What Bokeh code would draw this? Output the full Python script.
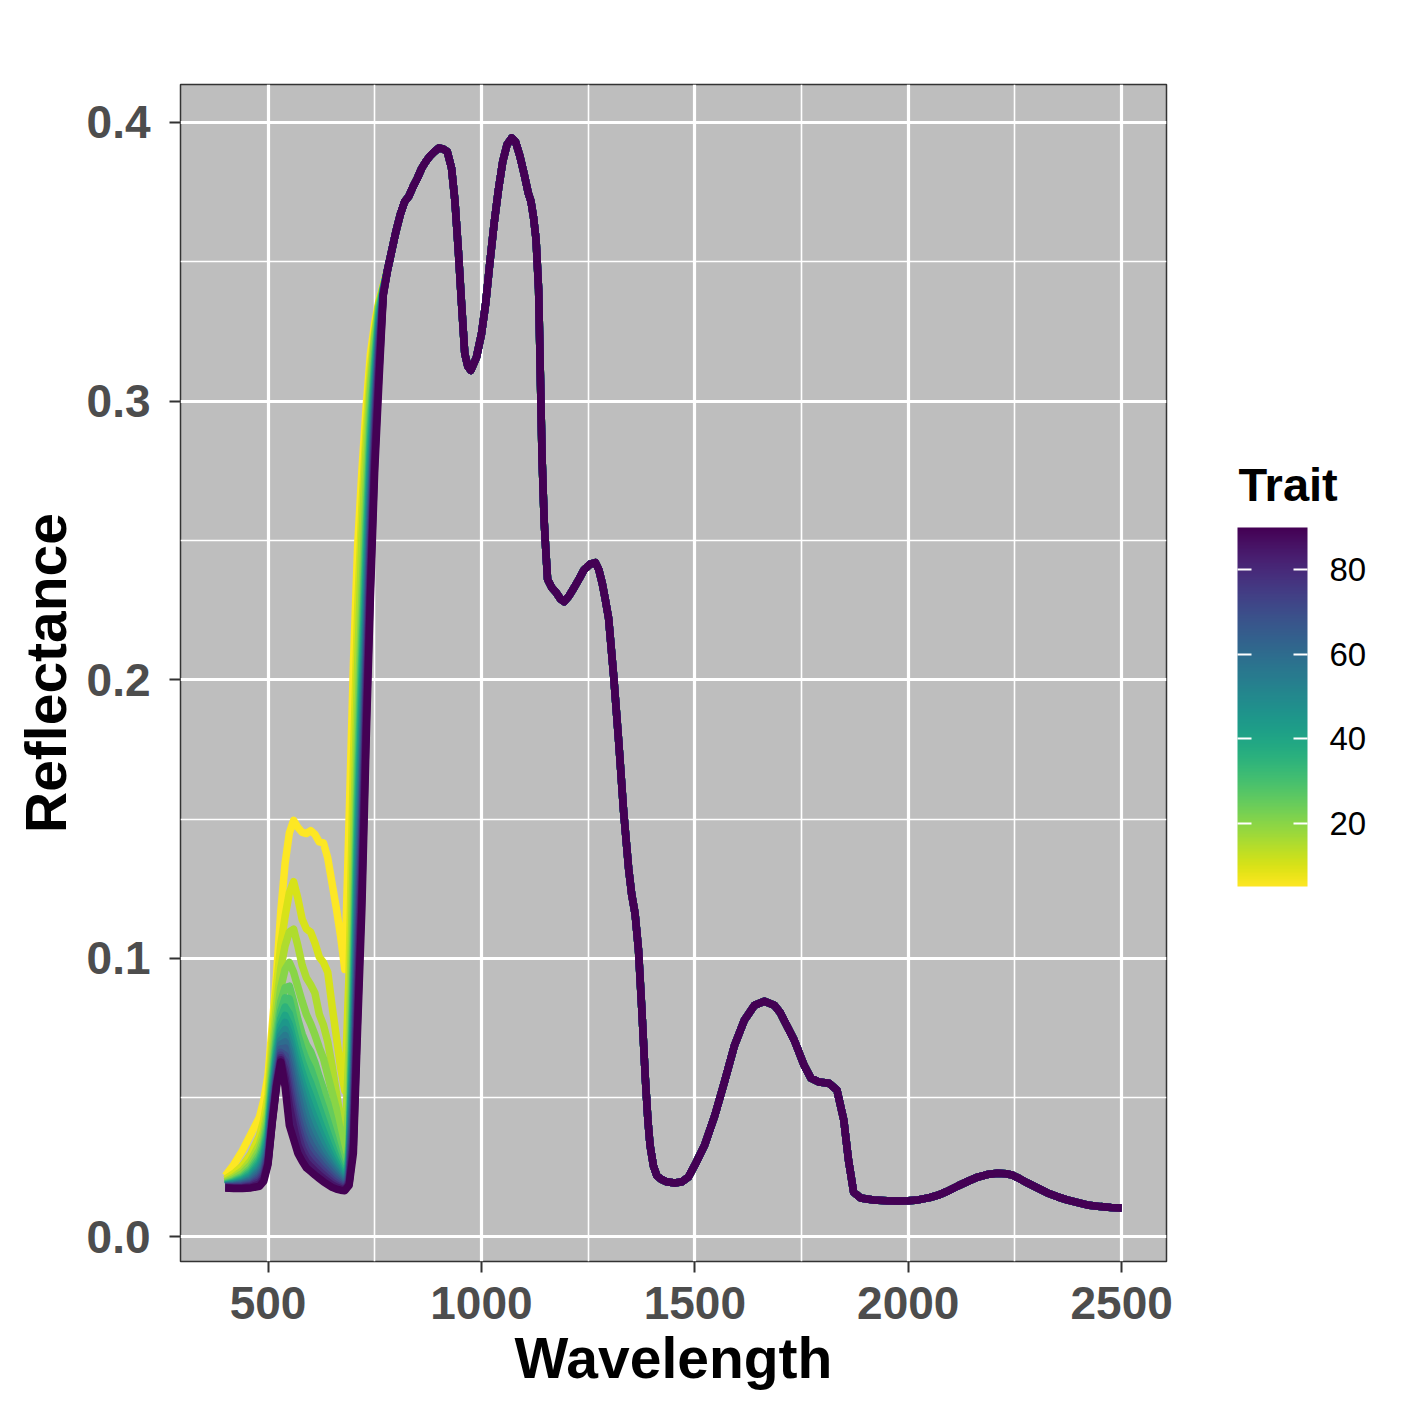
from bokeh.plotting import figure
from bokeh.models import (ColumnDataSource, LinearColorMapper, ColorBar, FixedTicker, Range1d)
from bokeh.palettes import Viridis256
from bokeh.embed import file_html
from bokeh.resources import INLINE

# ---------------- data ----------------
traits = [5, 10, 15, 20, 25, 30, 35, 40, 45, 50, 55, 60, 65, 70, 75, 80, 85, 90]

vis_wl = [400, 420, 440, 460, 480, 490, 500, 510, 520, 530, 540, 550, 560, 570, 580, 590,
          600, 610, 620, 630, 640, 650, 660, 670, 680, 690, 700, 710, 720, 730, 740, 750, 760, 770]

refl_t05 = [0.0220, 0.0260, 0.0310, 0.0370, 0.0430, 0.0490, 0.0580, 0.0760, 0.0940, 0.1170, 0.1340, 0.1450, 0.1495, 0.1470, 0.1452, 0.1448, 0.1458, 0.1445, 0.1418, 0.1414, 0.1360, 0.1270, 0.1180, 0.1080, 0.0960, 0.1500, 0.2050, 0.2480, 0.2750, 0.2980, 0.3170, 0.3280, 0.3360, 0.3415]
refl_t10 = [0.0208, 0.0228, 0.0256, 0.0298, 0.0363, 0.0420, 0.0510, 0.0720, 0.0900, 0.1050, 0.1150, 0.1235, 0.1275, 0.1215, 0.1140, 0.1105, 0.1094, 0.1055, 0.1005, 0.0985, 0.0950, 0.0830, 0.0720, 0.0610, 0.0525, 0.0950, 0.1700, 0.2250, 0.2620, 0.2900, 0.3120, 0.3250, 0.3355, 0.3412]
refl_t15 = [0.0200, 0.0216, 0.0238, 0.0275, 0.0333, 0.0383, 0.0468, 0.0665, 0.0830, 0.0965, 0.1045, 0.1095, 0.1105, 0.1045, 0.0975, 0.0930, 0.0905, 0.0875, 0.0800, 0.0760, 0.0700, 0.0615, 0.0520, 0.0420, 0.0335, 0.0680, 0.1400, 0.2050, 0.2500, 0.2830, 0.3070, 0.3240, 0.3350, 0.3410]
refl_t20 = [0.0196, 0.0209, 0.0228, 0.0260, 0.0313, 0.0358, 0.0438, 0.0620, 0.0775, 0.0895, 0.0960, 0.0985, 0.0950, 0.0897, 0.0845, 0.0798, 0.0765, 0.0725, 0.0680, 0.0640, 0.0580, 0.0520, 0.0460, 0.0375, 0.0285, 0.0480, 0.1150, 0.1830, 0.2300, 0.2700, 0.3030, 0.3220, 0.3345, 0.3408]
refl_t25 = [0.0192, 0.0203, 0.0219, 0.0247, 0.0296, 0.0338, 0.0412, 0.0585, 0.0730, 0.0845, 0.0895, 0.0900, 0.0845, 0.0780, 0.0728, 0.0690, 0.0665, 0.0625, 0.0575, 0.0530, 0.0480, 0.0420, 0.0350, 0.0285, 0.0222, 0.0340, 0.1000, 0.1680, 0.2170, 0.2590, 0.2950, 0.3170, 0.3335, 0.3405]
refl_t30 = [0.0190, 0.0199, 0.0213, 0.0238, 0.0283, 0.0322, 0.0392, 0.0560, 0.0700, 0.0810, 0.0858, 0.0855, 0.0790, 0.0725, 0.0675, 0.0635, 0.0605, 0.0560, 0.0510, 0.0465, 0.0415, 0.0365, 0.0310, 0.0260, 0.0212, 0.0310, 0.0910, 0.1580, 0.2080, 0.2520, 0.2900, 0.3140, 0.3325, 0.3402]
refl_t35 = [0.0188, 0.0196, 0.0208, 0.0230, 0.0272, 0.0308, 0.0375, 0.0540, 0.0675, 0.0782, 0.0825, 0.0800, 0.0742, 0.0680, 0.0630, 0.0588, 0.0552, 0.0508, 0.0462, 0.0418, 0.0372, 0.0328, 0.0285, 0.0247, 0.0205, 0.0290, 0.0820, 0.1490, 0.2000, 0.2450, 0.2850, 0.3110, 0.3310, 0.3400]
refl_t40 = [0.0186, 0.0193, 0.0204, 0.0223, 0.0262, 0.0295, 0.0360, 0.0522, 0.0655, 0.0760, 0.0795, 0.0762, 0.0702, 0.0640, 0.0590, 0.0545, 0.0505, 0.0462, 0.0418, 0.0378, 0.0338, 0.0300, 0.0267, 0.0235, 0.0200, 0.0275, 0.0740, 0.1410, 0.1920, 0.2380, 0.2800, 0.3080, 0.3295, 0.3398]
refl_t45 = [0.0185, 0.0191, 0.0200, 0.0217, 0.0253, 0.0283, 0.0347, 0.0507, 0.0638, 0.0740, 0.0770, 0.0730, 0.0668, 0.0605, 0.0553, 0.0505, 0.0462, 0.0422, 0.0382, 0.0346, 0.0312, 0.0280, 0.0253, 0.0226, 0.0196, 0.0262, 0.0670, 0.1340, 0.1840, 0.2320, 0.2750, 0.3050, 0.3280, 0.3396]
refl_t50 = [0.0184, 0.0189, 0.0196, 0.0211, 0.0244, 0.0272, 0.0334, 0.0492, 0.0622, 0.0722, 0.0744, 0.0700, 0.0635, 0.0572, 0.0518, 0.0468, 0.0425, 0.0388, 0.0352, 0.0320, 0.0291, 0.0264, 0.0241, 0.0218, 0.0192, 0.0250, 0.0610, 0.1270, 0.1760, 0.2260, 0.2700, 0.3020, 0.3265, 0.3394]
refl_t55 = [0.0183, 0.0187, 0.0193, 0.0206, 0.0236, 0.0262, 0.0322, 0.0478, 0.0608, 0.0705, 0.0722, 0.0672, 0.0605, 0.0540, 0.0483, 0.0430, 0.0390, 0.0357, 0.0325, 0.0298, 0.0274, 0.0251, 0.0231, 0.0210, 0.0188, 0.0240, 0.0560, 0.1200, 0.1680, 0.2200, 0.2650, 0.2990, 0.3250, 0.3392]
refl_t60 = [0.0182, 0.0185, 0.0190, 0.0201, 0.0228, 0.0252, 0.0310, 0.0465, 0.0595, 0.0690, 0.0700, 0.0645, 0.0575, 0.0505, 0.0443, 0.0395, 0.0360, 0.0330, 0.0302, 0.0280, 0.0259, 0.0239, 0.0221, 0.0203, 0.0184, 0.0230, 0.0510, 0.1130, 0.1600, 0.2140, 0.2600, 0.2960, 0.3230, 0.3390]
refl_t65 = [0.0181, 0.0183, 0.0187, 0.0196, 0.0220, 0.0243, 0.0300, 0.0452, 0.0582, 0.0675, 0.0678, 0.0615, 0.0540, 0.0465, 0.0408, 0.0364, 0.0333, 0.0307, 0.0285, 0.0265, 0.0246, 0.0228, 0.0212, 0.0197, 0.0181, 0.0220, 0.0470, 0.1060, 0.1530, 0.2080, 0.2550, 0.2930, 0.3210, 0.3388]
refl_t70 = [0.0180, 0.0181, 0.0184, 0.0191, 0.0212, 0.0234, 0.0290, 0.0440, 0.0570, 0.0662, 0.0652, 0.0580, 0.0500, 0.0428, 0.0375, 0.0335, 0.0308, 0.0288, 0.0268, 0.0250, 0.0233, 0.0217, 0.0203, 0.0190, 0.0178, 0.0210, 0.0430, 0.0990, 0.1460, 0.2020, 0.2500, 0.2900, 0.3190, 0.3386]
refl_t75 = [0.0179, 0.0179, 0.0181, 0.0187, 0.0205, 0.0225, 0.0280, 0.0430, 0.0560, 0.0652, 0.0628, 0.0545, 0.0462, 0.0395, 0.0345, 0.0310, 0.0288, 0.0270, 0.0252, 0.0236, 0.0221, 0.0206, 0.0194, 0.0184, 0.0175, 0.0202, 0.0390, 0.0920, 0.1390, 0.1960, 0.2450, 0.2870, 0.3165, 0.3384]
refl_t80 = [0.0178, 0.0177, 0.0178, 0.0183, 0.0198, 0.0216, 0.0272, 0.0422, 0.0552, 0.0643, 0.0600, 0.0510, 0.0430, 0.0365, 0.0318, 0.0288, 0.0269, 0.0253, 0.0237, 0.0223, 0.0209, 0.0196, 0.0186, 0.0178, 0.0172, 0.0196, 0.0360, 0.0860, 0.1320, 0.1900, 0.2400, 0.2830, 0.3140, 0.3382]
refl_t85 = [0.0177, 0.0175, 0.0176, 0.0179, 0.0190, 0.0208, 0.0265, 0.0415, 0.0545, 0.0636, 0.0570, 0.0470, 0.0395, 0.0330, 0.0295, 0.0268, 0.0252, 0.0237, 0.0223, 0.0210, 0.0198, 0.0187, 0.0179, 0.0173, 0.0169, 0.0190, 0.0330, 0.0800, 0.1250, 0.1840, 0.2350, 0.2790, 0.3110, 0.3380]
refl_t90 = [0.0176, 0.0174, 0.0174, 0.0176, 0.0182, 0.0200, 0.0260, 0.0410, 0.0540, 0.0628, 0.0540, 0.0400, 0.0350, 0.0300, 0.0272, 0.0248, 0.0235, 0.0222, 0.0210, 0.0198, 0.0188, 0.0178, 0.0172, 0.0168, 0.0166, 0.0185, 0.0300, 0.0750, 0.1180, 0.1780, 0.2300, 0.2750, 0.3070, 0.3378]

# shared near/short-wave infrared part (identical for every trait level)
nir_wl = [780, 790, 800, 810, 820, 830, 840, 850, 860, 870, 880, 890, 900, 910, 920, 930, 938, 946,
          953, 961, 968, 975, 988, 1000, 1010, 1020, 1030, 1040, 1050, 1060, 1071, 1080, 1090, 1100,
          1110, 1116, 1122, 1128, 1134, 1138, 1142, 1147, 1151, 1155, 1165, 1174, 1185, 1194, 1205,
          1217, 1230, 1240, 1255, 1267, 1275, 1283, 1290, 1298, 1310, 1322, 1333, 1345, 1352, 1360,
          1368, 1376, 1384, 1390, 1395, 1403, 1411, 1420, 1434, 1453, 1470, 1485, 1500, 1523, 1547,
          1570, 1593, 1616, 1640, 1663, 1686, 1700, 1709, 1733, 1756, 1772, 1791, 1814, 1833, 1849,
          1860, 1872, 1888, 1919, 1950, 1977, 2000, 2023, 2050, 2070, 2090, 2116, 2140, 2163, 2185,
          2209, 2230, 2244, 2260, 2279, 2300, 2326, 2350, 2372, 2400, 2419, 2450, 2475, 2500]
nir_refl = [0.3470, 0.3540, 0.3610, 0.3670, 0.3715, 0.3735, 0.3770, 0.3800, 0.3835, 0.3860, 0.3880,
            0.3895, 0.3908, 0.3905, 0.3895, 0.3836, 0.3717, 0.3538, 0.3360, 0.3170, 0.3125, 0.3110,
            0.3155, 0.3240, 0.3350, 0.3500, 0.3640, 0.3760, 0.3860, 0.3920, 0.3944, 0.3930, 0.3880,
            0.3815, 0.3745, 0.3717, 0.3660, 0.3580, 0.3400, 0.3100, 0.2800, 0.2570, 0.2460, 0.2360,
            0.2330, 0.2315, 0.2290, 0.2280, 0.2300, 0.2330, 0.2365, 0.2394, 0.2415, 0.2420, 0.2395,
            0.2346, 0.2290, 0.2220, 0.2010, 0.1770, 0.1530, 0.1320, 0.1230, 0.1160, 0.1030, 0.0810,
            0.0570, 0.0420, 0.0330, 0.0255, 0.0220, 0.0208, 0.0198, 0.0194, 0.0198, 0.0215, 0.0258,
            0.0330, 0.0437, 0.0560, 0.0688, 0.0778, 0.0832, 0.0846, 0.0832, 0.0805, 0.0778, 0.0706,
            0.0616, 0.0570, 0.0556, 0.0552, 0.0527, 0.0419, 0.0276, 0.0161, 0.0140, 0.0133, 0.0130,
            0.0129, 0.0130, 0.0133, 0.0141, 0.0150, 0.0163, 0.0183, 0.0200, 0.0215, 0.0224, 0.0229,
            0.0227, 0.0222, 0.0210, 0.0194, 0.0178, 0.0158, 0.0144, 0.0133, 0.0122, 0.0115, 0.0109,
            0.0106, 0.0104]

x_ticks = [500, 1000, 1500, 2000, 2500]
x_minor = [750, 1250, 1750, 2250]
y_ticks = [0.0, 0.1, 0.2, 0.3, 0.4]
y_minor = [0.05, 0.15, 0.25, 0.35]
y_tick_labels = ["0.0", "0.1", "0.2", "0.3", "0.4"]
cbar_ticks = [20, 40, 60, 80]
legend_title = "Trait"

curves = [refl_t05, refl_t10, refl_t15, refl_t20, refl_t25, refl_t30, refl_t35, refl_t40, refl_t45,
          refl_t50, refl_t55, refl_t60, refl_t65, refl_t70, refl_t75, refl_t80, refl_t85, refl_t90]

# ---------------- plot ----------------
FONT = "Liberation Sans"
palette = list(reversed(Viridis256))
mapper = LinearColorMapper(palette=palette, low=min(traits), high=max(traits))

xs = [vis_wl + nir_wl for _ in curves]
ys = [c + nir_refl for c in curves]
src = ColumnDataSource(dict(xs=xs, ys=ys, trait=traits))

p = figure(frame_width=986, frame_height=1177,
           x_range=Range1d(295, 2605), y_range=Range1d(-0.0088, 0.4136),
           output_backend="svg", toolbar_location=None,
           min_border_left=180, min_border_top=84, min_border_right=243, min_border_bottom=148)

p.background_fill_color = "#BEBEBE"
p.border_fill_color = "white"
p.outline_line_color = "#333333"
p.outline_line_width = 1.5

p.multi_line("xs", "ys", source=src, line_color={"field": "trait", "transform": mapper},
             line_width=7.5, line_join="round", line_cap="butt")

p.xaxis.ticker = FixedTicker(ticks=x_ticks, minor_ticks=x_minor)
p.yaxis.ticker = FixedTicker(ticks=y_ticks, minor_ticks=y_minor)
p.yaxis.major_label_overrides = {v: s for v, s in zip(y_ticks, y_tick_labels)}

for g in (p.xgrid, p.ygrid):
    g.grid_line_color = "white"
    g.grid_line_width = 3.2
    g.minor_grid_line_color = "white"
    g.minor_grid_line_width = 1.6

for ax in (p.xaxis, p.yaxis):
    ax.axis_line_color = None
    ax.major_tick_line_color = "#333333"
    ax.major_tick_line_width = 2
    ax.major_tick_out = 11
    ax.major_tick_in = 0
    ax.minor_tick_line_color = None
    ax.major_label_text_font = FONT
    ax.major_label_text_font_style = "bold"
    ax.major_label_text_font_size = "46px"
    ax.major_label_text_color = "#4D4D4D"
    ax.axis_label_text_font = FONT
    ax.axis_label_text_font_style = "bold"
    ax.axis_label_text_font_size = "57px"
    ax.axis_label_text_color = "black"

p.xaxis.axis_label = "Wavelength"
p.yaxis.axis_label = "Reflectance"
p.xaxis.major_label_standoff = 14
p.yaxis.major_label_standoff = 19
p.xaxis.axis_label_standoff = 4
p.yaxis.axis_label_standoff = 6

# colour bar (right-side ticks + labels)
cb = ColorBar(color_mapper=mapper, ticker=FixedTicker(ticks=cbar_ticks),
              width=70, height=359,
              major_label_text_font=FONT, major_label_text_font_size="33px",
              major_label_text_color="black", label_standoff=22,
              major_tick_line_color="white", major_tick_line_width=2,
              major_tick_in=14, major_tick_out=0, minor_tick_line_color=None,
              bar_line_color=None, border_line_color=None, background_fill_color=None,
              padding=0, margin=0, location=(1057, 375))
p.add_layout(cb, "center")

# transparent twin bar that only supplies the left-side white ticks
cb_left = ColorBar(color_mapper=mapper, ticker=FixedTicker(ticks=cbar_ticks),
                   width=14, height=359, scale_alpha=0.0,
                   major_label_overrides={t: "" for t in cbar_ticks},
                   major_label_text_alpha=0.0, major_label_text_font_size="1px",
                   major_tick_line_color="white", major_tick_line_width=2,
                   major_tick_in=14, major_tick_out=0, minor_tick_line_color=None,
                   bar_line_color=None, border_line_color=None, background_fill_color=None,
                   padding=0, margin=0, location=(1057, 375))
p.add_layout(cb_left, "center")

# horizontal, invisible bar that only carries the legend title (drawn horizontally)
cb_title = ColorBar(color_mapper=mapper, ticker=FixedTicker(ticks=[]), orientation="horizontal",
                    width=110, height=1, scale_alpha=0.0, title=legend_title,
                    title_text_font=FONT, title_text_font_size="47px", title_text_font_style="bold",
                    title_text_color="black", title_standoff=0,
                    major_label_text_font_size="1px", major_label_text_alpha=0.0,
                    major_tick_line_color=None, minor_tick_line_color=None,
                    bar_line_color=None, border_line_color=None, background_fill_color=None,
                    padding=0, margin=0, location=(1058, 750))
p.add_layout(cb_title, "center")

open("out.html", "w").write(file_html(p, INLINE))
